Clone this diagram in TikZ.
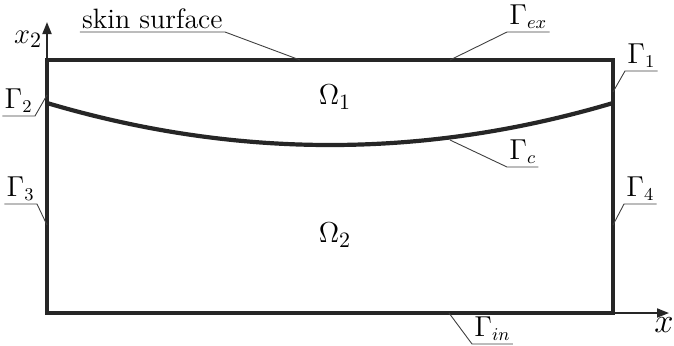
\documentclass[tikz,border=0pt]{standalone}
\usetikzlibrary{arrows.meta}

\newcommand{\Gam}[1]{$\Gamma_{#1}$}
% label with its underline to the right of the leader
\newcommand{\tagright}[4]{%
  \coordinate (#1-end) at (#3);
  \node[tag,anchor=south west] (#1) at (#2) {#4};
  \draw[lead] (#1-end) -- (#1.south west) -- (#1.south east);}
% label with its underline to the left of the leader
\newcommand{\tagleft}[4]{%
  \coordinate (#1-end) at (#3);
  \node[tag,anchor=south east] (#1) at (#2) {#4};
  \draw[lead] (#1-end) -- (#1.south east) -- (#1.south west);}

\begin{document}
\begin{tikzpicture}[x=0.5pt,y=-0.5pt,
    wall/.style={line width=2.1pt,black!85},
    axis/.style={line width=0.9pt,black!85,-{Triangle[length=6pt,width=4.5pt]}},
    lead/.style={line width=0.45pt,black!75},
    tag/.style={inner xsep=1pt,inner ysep=1.5pt,font=\fontsize{13.5}{16}\selectfont}]
  \useasboundingbox (0,0) rectangle (674,345);
  % domain
  \draw[axis] (613,313) -- (669,313);
  \draw[axis] (47,60) -- (47,22);
  \draw[wall] (47,60) rectangle (613,313);
  \draw[wall] (47,103) .. controls (236,159) and (424,159) .. (613,103);
  % regions and axes
  \node[font=\fontsize{15}{17}\selectfont] (om1) at (335,97) {$\Omega_1$};
  \node[font=\fontsize{15}{17}\selectfont] (om2) at (335,235) {$\Omega_2$};
  \node[font=\fontsize{15}{17}\selectfont] (xtwo) at (28,39) {$x_2$};
  \node[font=\fontsize{17}{19}\selectfont] (xone) at (664,325) {$x$};
  % boundary labels
  \tagleft{skin}{225,32}{300,60}{\fontsize{14}{17}\selectfont skin surface}
  \tagright{gex}{507,32}{450,60}{\Gam{ex}}
  \tagright{gone}{625,71}{613,92}{\Gam{1}}
  \tagleft{gtwo}{35,116}{47,95}{\Gam{2}}
  \tagright{gc}{507,167}{450,140}{\Gam{c}}
  \tagleft{gthree}{37,204}{47,225}{\Gam{3}}
  \tagright{gfour}{624,204}{613,225}{\Gam{4}}
  \tagright{gin}{472,344}{449,313}{\Gam{in}}
\end{tikzpicture}
\end{document}
